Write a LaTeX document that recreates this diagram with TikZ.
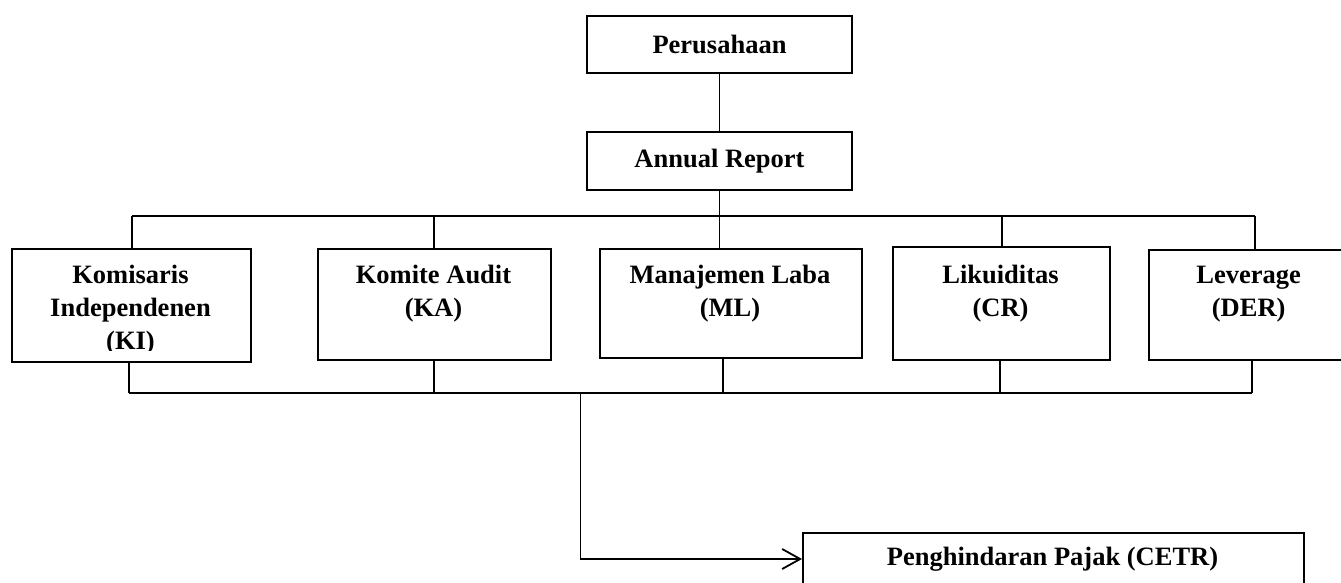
\documentclass[tikz,border=0pt]{standalone}
\usepackage{fontspec}
\setmainfont{Liberation Serif}
\usetikzlibrary{arrows.meta}
\begin{document}
\begin{tikzpicture}[x=1pt,y=-1pt,
  box/.style={draw=black,line width=2pt,inner sep=0pt,anchor=north west,
    font=\fontsize{26.5}{33}\selectfont\bfseries},
  lbl/.style={inner sep=0pt,align=center,anchor=north,
    font=\fontsize{26.5}{33}\selectfont\bfseries},
  conn/.style={draw=black,line width=1.3pt},
  arr/.style={draw=black,line width=1.8pt,-{Straight Barb[length=18pt,width=20pt,line width=1.8pt]}}]
\useasboundingbox (0,0) rectangle (1341,583);
\clip (0,0) rectangle (1341,583);
\fill[white] (0,0) rectangle (1341,583);
% top boxes
\node[box,minimum width=265pt,minimum height=57pt] (per) at (586,15) {Perusahaan};
\node[box,minimum width=265pt,minimum height=58pt] (ar) at (586,131) {Annual Report};
% five boxes
\node[box,minimum width=239pt,minimum height=113pt] (ki) at (11,248) {};
\node[box,minimum width=233pt,minimum height=111pt] (ka) at (317,248) {};
\node[box,minimum width=262pt,minimum height=109pt] (ml) at (599,248) {};
\node[box,minimum width=217pt,minimum height=113pt] (cr) at (892,246) {};
\node[box,minimum width=200pt,minimum height=110pt] (der) at (1148,249) {};
\begin{scope}
  \clip (11,248) rectangle (250,350);
  \node[lbl] (kiT) at (130.5,259.9) {\strut Komisaris\\Independenen\\(KI)};
\end{scope}
\node[lbl] (kaT) at (433.5,259.9) {\strut Komite Audit\\(KA)};
\node[lbl] (mlT) at (730,259.9) {\strut Manajemen Laba\\(ML)};
\node[lbl] (crT) at (1000.5,259.9) {\strut Likuiditas\\(CR)};
\node[lbl] (derT) at (1248.7,259.9) {\strut Leverage\\(DER)};
% bottom box
\node[box,minimum width=501pt,minimum height=70pt] (cetr) at (802,532) {};
\node[inner sep=0pt,anchor=base,font=\fontsize{26.5}{33}\selectfont\bfseries] (cetrT) at (1052.5,565) {Penghindaran Pajak (CETR)};
% connectors top
\coordinate (bus) at (0,216);
\coordinate (t1) at (132,216);
\coordinate (t2) at (434,216);
\coordinate (t3) at (ar.south |- bus);
\coordinate (t4) at (1002,216);
\coordinate (t5) at (1255,216);
\draw[conn] (per.south) -- (ar.north);
\draw[conn] (ar.south) -- (t3);
\draw[conn] (t1) -- (t5);
\draw[conn] (t1) -- (t1 |- ki.north);
\draw[conn] (t2) -- (t2 |- ka.north);
\draw[conn] (t3) -- (t3 |- ml.north);
\draw[conn] (t4) -- (t4 |- cr.north);
\draw[conn] (t5) -- (t5 |- der.north);
% connectors bottom
\coordinate (b1) at (129,393);
\coordinate (b2) at (434,393);
\coordinate (b3) at (723,393);
\coordinate (b4) at (1000,393);
\coordinate (b5) at (1252,393);
\coordinate (bj) at (580.5,393);
\coordinate (ay) at (0,559);
\draw[conn] (b1) -- (b5);
\draw[conn] (b1 |- ki.south) -- (b1);
\draw[conn] (b2 |- ka.south) -- (b2);
\draw[conn] (b3 |- ml.south) -- (b3);
\draw[conn] (b4 |- cr.south) -- (b4);
\draw[conn] (b5 |- der.south) -- (b5);
\draw[arr] (bj) |- (ay -| cetr.west);
\end{tikzpicture}
\end{document}
